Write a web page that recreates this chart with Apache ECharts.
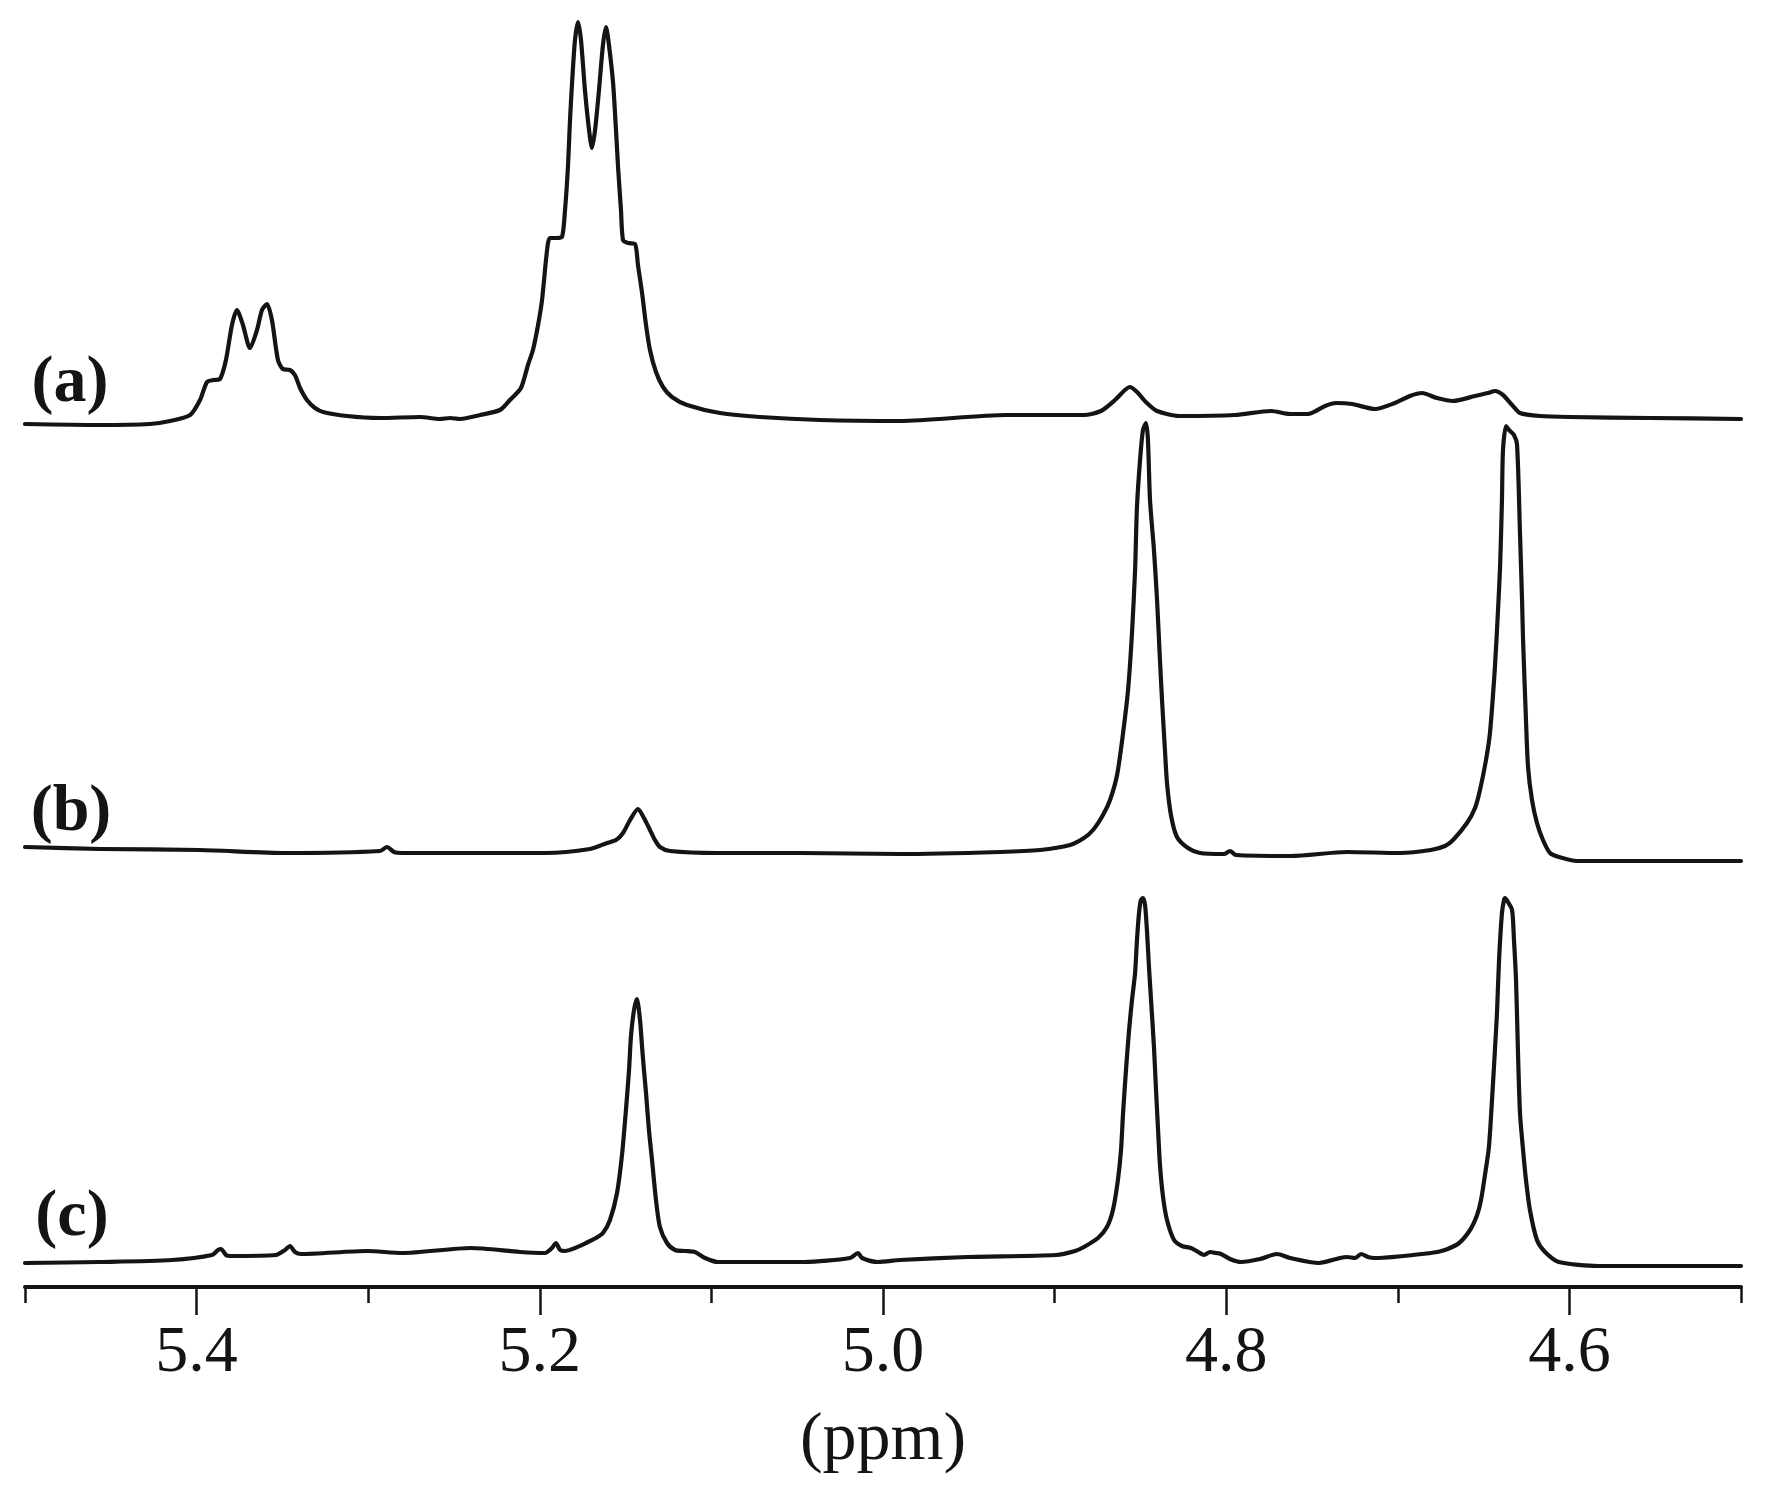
<!DOCTYPE html>
<html><head><meta charset="utf-8">
<script src="https://cdn.jsdelivr.net/npm/echarts@6/dist/echarts.min.js"></script>
<style>html,body{margin:0;padding:0;background:#fff}#chart{width:1776px;height:1488px}</style>
</head><body><div id="chart"></div>
<script>
// Axis (chemical shift, ppm; reversed)
const X_MIN = 4.5, X_MAX = 5.5;
const MAJOR_TICKS = [4.6, 4.8, 5.0, 5.2, 5.4];
const MINOR_TICKS = [4.5, 4.7, 4.9, 5.1, 5.3, 5.5];
const AXIS_NAME = '(ppm)';
const SPECTRUM_LABELS = ['(a)', '(b)', '(c)'];

// vertical stacking offsets of the three traces (intensity units)
const OFFSET_A = 867, OFFSET_B = 437, OFFSET_C = 27;

// [ppm, intensity]
const SPEC_A = [[5.5000,-4],[5.4563,-5],[5.4272,-4],[5.4155,-1],[5.4038,5],[5.3980,20],[5.3939,38],[5.3899,40],[5.3864,41],[5.3829,60],[5.3794,95],[5.3765,110],[5.3730,95],[5.3689,72],[5.3648,90],[5.3619,110],[5.3590,116],[5.3561,100],[5.3526,60],[5.3497,51],[5.3456,50],[5.3427,45],[5.3397,32],[5.3357,20],[5.3310,12],[5.3263,8],[5.3124,4],[5.2931,2],[5.2698,3],[5.2582,1],[5.2523,2],[5.2465,1],[5.2348,5],[5.2232,10],[5.2174,20],[5.2110,32],[5.2069,55],[5.2040,70],[5.2010,95],[5.1987,120],[5.1964,160],[5.1952,177],[5.1941,182],[5.1906,182],[5.1871,183],[5.1853,210],[5.1836,253],[5.1824,300],[5.1812,337],[5.1795,380],[5.1777,398],[5.1760,380],[5.1737,330],[5.1713,290],[5.1696,272],[5.1678,290],[5.1655,330],[5.1632,375],[5.1614,393],[5.1597,375],[5.1573,337],[5.1556,290],[5.1544,253],[5.1527,210],[5.1515,180],[5.1486,177],[5.1445,176],[5.1428,155],[5.1404,127],[5.1381,95],[5.1358,70],[5.1323,48],[5.1282,33],[5.1230,23],[5.1142,15],[5.0950,7],[5.0717,3],[5.0367,0],[4.9901,-1],[4.9283,5],[4.8829,5],[4.8730,9],[4.8648,20],[4.8590,30],[4.8561,33],[4.8520,28],[4.8462,17],[4.8403,9],[4.8275,4],[4.7949,5],[4.7739,9],[4.7628,6],[4.7523,6],[4.7424,14],[4.7360,17],[4.7267,16],[4.7133,11],[4.7016,17],[4.6929,24],[4.6859,27],[4.6772,22],[4.6678,19],[4.6550,24],[4.6474,27],[4.6434,29],[4.6387,25],[4.6334,15],[4.6288,7],[4.6171,4],[4.5997,3],[4.5530,2],[4.5000,1]];

const SPEC_B = [[5.5000,3],[5.4563,1],[5.3980,0],[5.3473,-3],[5.2931,-1],[5.2890,3],[5.2850,-2],[5.2803,-3],[5.1970,-3],[5.1708,1],[5.1608,7],[5.1556,10],[5.1515,17],[5.1474,30],[5.1428,41],[5.1393,32],[5.1358,20],[5.1329,10],[5.1300,3],[5.1241,-1],[5.0967,-3],[5.0484,-3],[4.9901,-4],[4.9318,-2],[4.9085,0],[4.8910,5],[4.8829,12],[4.8776,20],[4.8718,35],[4.8677,50],[4.8636,75],[4.8601,117],[4.8572,160],[4.8549,217],[4.8531,280],[4.8520,343],[4.8502,390],[4.8485,420],[4.8467,427],[4.8456,410],[4.8444,350],[4.8421,300],[4.8403,250],[4.8386,190],[4.8374,150],[4.8357,100],[4.8345,67],[4.8322,35],[4.8287,13],[4.8223,2],[4.8153,-3],[4.8013,-4],[4.7978,-1],[4.7943,-5],[4.7622,-6],[4.7296,-2],[4.6987,-3],[4.6807,0],[4.6725,4],[4.6678,10],[4.6597,27],[4.6550,42],[4.6521,60],[4.6486,90],[4.6463,117],[4.6434,183],[4.6416,240],[4.6404,283],[4.6393,350],[4.6387,400],[4.6369,424],[4.6352,420],[4.6323,415],[4.6305,405],[4.6288,317],[4.6276,250],[4.6270,210],[4.6253,130],[4.6241,83],[4.6218,50],[4.6189,27],[4.6154,10],[4.6113,-3],[4.6061,-7],[4.5956,-11],[4.5670,-11],[4.5000,-11]];

const SPEC_C = [[5.5000,-3],[5.4563,-2],[5.4143,0],[5.3910,5],[5.3875,10],[5.3858,11],[5.3829,5],[5.3805,4],[5.3537,5],[5.3485,10],[5.3456,14],[5.3427,8],[5.3392,6],[5.3007,9],[5.2803,7],[5.2401,12],[5.2115,8],[5.1970,7],[5.1929,12],[5.1906,17],[5.1882,10],[5.1853,9],[5.1795,12],[5.1731,17],[5.1673,22],[5.1632,27],[5.1591,40],[5.1550,67],[5.1521,105],[5.1498,150],[5.1480,190],[5.1469,223],[5.1451,250],[5.1434,261],[5.1416,240],[5.1404,213],[5.1393,190],[5.1381,167],[5.1364,130],[5.1346,100],[5.1323,60],[5.1300,33],[5.1259,17],[5.1212,10],[5.1154,9],[5.1096,8],[5.1037,2],[5.0962,-2],[5.0460,-2],[5.0192,2],[5.0146,7],[5.0122,2],[5.0029,-2],[4.9901,0],[4.9510,3],[4.8992,5],[4.8881,9],[4.8829,13],[4.8747,22],[4.8695,33],[4.8660,50],[4.8631,80],[4.8613,110],[4.8601,147],[4.8584,190],[4.8566,230],[4.8549,260],[4.8531,287],[4.8520,320],[4.8508,347],[4.8497,360],[4.8485,362],[4.8473,355],[4.8462,330],[4.8450,293],[4.8438,260],[4.8421,213],[4.8409,170],[4.8397,130],[4.8386,95],[4.8368,63],[4.8345,40],[4.8304,20],[4.8258,14],[4.8205,12],[4.8164,8],[4.8129,5],[4.8094,8],[4.8059,7],[4.8030,6],[4.7978,1],[4.7914,-2],[4.7803,1],[4.7704,6],[4.7628,2],[4.7459,-3],[4.7337,2],[4.7296,3],[4.7249,2],[4.7214,6],[4.7174,3],[4.7133,2],[4.6807,7],[4.6725,10],[4.6643,17],[4.6579,30],[4.6538,45],[4.6515,60],[4.6492,85],[4.6469,113],[4.6451,160],[4.6434,210],[4.6422,247],[4.6410,300],[4.6393,347],[4.6381,360],[4.6375,362],[4.6358,358],[4.6334,350],[4.6323,320],[4.6311,280],[4.6300,210],[4.6288,147],[4.6270,110],[4.6253,80],[4.6230,50],[4.6189,20],[4.6142,8],[4.6061,-2],[4.5833,-6],[4.5000,-6]];

const chart = echarts.init(document.getElementById('chart'));
const FONT = '"Liberation Serif", "Times New Roman", serif';
const INK = '#141414';

function shift(data, off) { return data.map(p => [p[0], p[1] + off]); }
function lineSeries(name, data, off) {
  return {
    name, type: 'line', data: shift(data, off), showSymbol: false, smooth: 0.25,
    lineStyle: { color: INK, width: 4.2, join: 'round', cap: 'round' }, animation: false, clip: false, silent: true
  };
}

const axisBase = {
  type: 'value', min: X_MIN, max: X_MAX, inverse: true, position: 'bottom', gridIndex: 0,
  splitLine: { show: false }
};

chart.setOption({
  backgroundColor: '#ffffff',
  animation: false,
  grid: { left: 25, right: 35, top: 0, bottom: 201, containLabel: false },
  xAxis: [
    Object.assign({}, axisBase, {
      axisLine: { show: true, onZero: false, lineStyle: { color: INK, width: 4 } },
      axisTick: { show: true, customValues: MINOR_TICKS, length: 16, lineStyle: { color: INK, width: 2.5 } },
      axisLabel: { show: false }
    }),
    Object.assign({}, axisBase, {
      axisLine: { show: false, onZero: false },
      axisTick: { show: true, customValues: MAJOR_TICKS, length: 28, lineStyle: { color: INK, width: 2.5 } },
      axisLabel: { show: true, customValues: MAJOR_TICKS, formatter: v => Number(v).toFixed(1),
        fontFamily: FONT, fontSize: 66, color: INK, margin: 34 },
      name: AXIS_NAME, nameLocation: 'middle', nameGap: 120,
      nameTextStyle: { fontFamily: FONT, fontSize: 68, color: INK }
    })
  ],
  yAxis: { type: 'value', min: 0, max: 1287, show: false },
  series: [
    lineSeries('a', SPEC_A, OFFSET_A),
    lineSeries('b', SPEC_B, OFFSET_B),
    lineSeries('c', SPEC_C, OFFSET_C)
  ],
  graphic: [
    { type: 'text', x: 70, y: 384, style: { text: SPECTRUM_LABELS[0], fontFamily: FONT, fontWeight: 'bold', fontSize: 66, fill: INK, textAlign: 'center', textVerticalAlign: 'middle' } },
    { type: 'text', x: 71, y: 813, style: { text: SPECTRUM_LABELS[1], fontFamily: FONT, fontWeight: 'bold', fontSize: 66, fill: INK, textAlign: 'center', textVerticalAlign: 'middle' } },
    { type: 'text', x: 72, y: 1218, style: { text: SPECTRUM_LABELS[2], fontFamily: FONT, fontWeight: 'bold', fontSize: 66, fill: INK, textAlign: 'center', textVerticalAlign: 'middle' } }
  ]
});
</script></body></html>
